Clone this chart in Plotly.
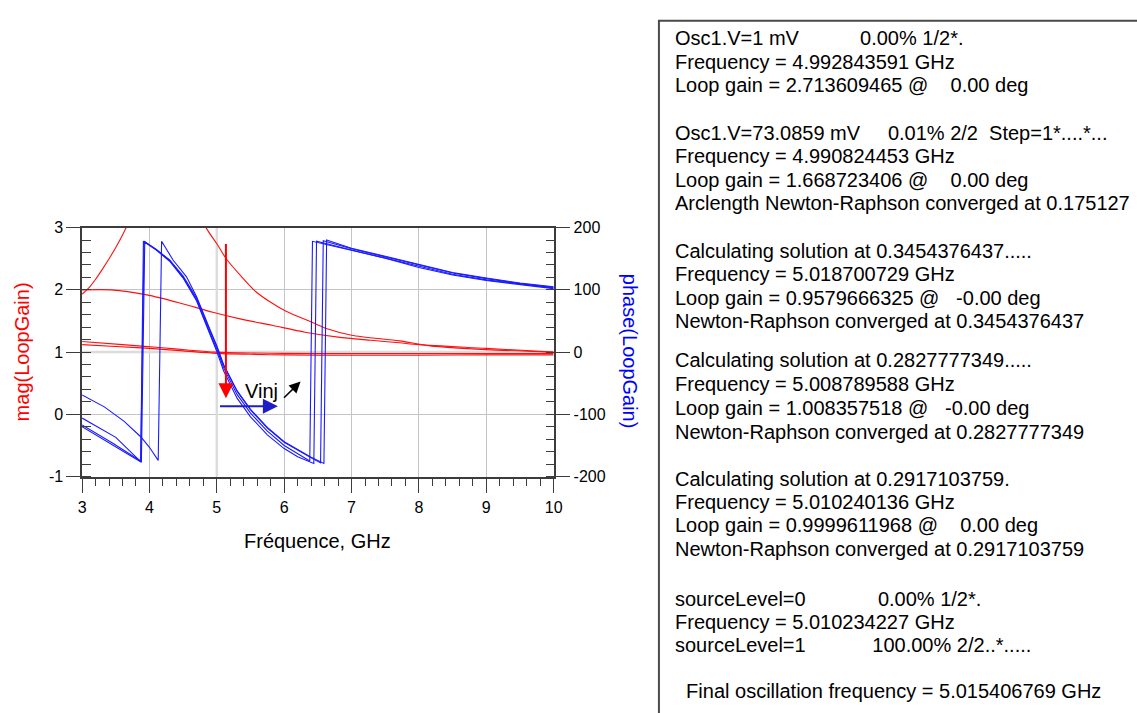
import plotly.graph_objects as go

W, H = 1137, 713
# plot area in pixels
PX0, PX1 = 79, 556
PY0, PY1 = 225, 480

FONT = "Liberation Sans, Arial, sans-serif"

# ---- magnitude of the loop gain (left axis), one curve per iteration ----
mag_f1 = [3.0, 3.1, 3.2, 3.3, 3.4, 3.5, 3.6, 3.7, 4.0, 4.3, 4.6, 4.84, 5.0, 5.14, 5.36,
          5.58, 5.8, 6.02, 6.41, 6.65, 7.0, 7.71, 8.17, 9.0, 10.0]
mag_v1 = [1.93, 2.03, 2.17, 2.33, 2.50, 2.68, 2.88, 3.12, 4.2, 5.0, 3.6, 3.0, 2.74, 2.50, 2.22,
          1.97, 1.80, 1.66, 1.48, 1.37, 1.27, 1.18, 1.10, 1.04, 1.0]

mag_f2 = [3.0, 3.43, 3.96, 4.45, 4.94, 5.36, 5.82, 6.31, 6.8, 7.29, 7.71, 8.0, 9.0, 10.0]
mag_v2 = [2.0, 2.0, 1.92, 1.79, 1.64, 1.53, 1.43, 1.32, 1.24, 1.19, 1.15, 1.12, 1.06, 1.0]

mag_f3 = [3.0, 3.6, 4.19, 4.6, 4.97, 5.5, 6.0, 7.0, 8.0, 9.0, 10.0]
mag_v3 = [1.17, 1.12, 1.07, 1.03, 1.0, 0.985, 0.98, 0.975, 0.975, 0.975, 0.975]

mag_f4 = [3.0, 3.5, 4.0, 4.5, 5.0, 5.5, 6.0, 7.0, 8.0, 9.0, 10.0]
mag_v4 = [1.12, 1.09, 1.06, 1.02, 0.98, 0.965, 0.955, 0.95, 0.95, 0.955, 0.955]

# ---- phase of the loop gain (right axis, degrees) ----
ph_f1 = [3.0, 3.45, 3.87, 3.91, 4.1, 4.3, 4.5, 4.7, 4.9, 5.0, 5.1, 5.3, 5.5, 5.75,
         6.0, 6.2, 6.38, 6.42, 7.0, 7.5, 8.0, 8.5, 9.0, 9.5, 10.0]
ph_p1 = [-117, -146, -175, 178, 165, 147, 120, 84, 30, 5, -25, -68, -98, -127,
         -150, -163, -175, 178, 163, 151, 136, 124, 115, 108, 102]

ph_f2 = [3.0, 3.45, 3.88, 3.93, 4.1, 4.3, 4.5, 4.7, 4.9, 5.0, 5.1, 5.3, 5.5, 5.75,
         6.0, 6.2, 6.44, 6.48, 7.0, 7.5, 8.0, 8.5, 9.0, 9.5, 10.0]
ph_p2 = [-120, -149, -177, 177, 164, 146, 119, 82, 27, 1, -30, -74, -104, -133,
         -155, -168, -179, 178, 164, 151, 137, 125, 116, 109, 103]

ph_f3 = [3.0, 3.5, 3.87, 3.92, 4.1, 4.3, 4.5, 4.7, 4.9, 5.0, 5.1, 5.3, 5.5, 5.75,
         6.0, 6.2, 6.4, 6.54, 6.58, 7.0, 7.5, 8.0, 8.5, 9.0, 9.5, 10.0]
ph_p3 = [-106, -137, -176, 178, 165, 148, 122, 87, 34, 9, -21, -63, -93, -122,
         -145, -158, -170, -178, 179, 166, 153, 139, 127, 118, 110, 104]

ph_f4 = [3.0, 3.33, 3.62, 3.87, 4.0, 4.13, 4.18, 4.35, 4.55, 4.7, 4.9, 5.0, 5.1, 5.3,
         5.5, 5.75, 6.0, 6.2, 6.4, 6.59, 6.63, 7.0, 7.5, 8.0, 8.5, 9.0, 9.5, 10.0]
ph_p4 = [-69, -88, -111, -136, -153, -174, 178, 148, 121, 89, 36, 10, -20, -62,
         -92, -121, -144, -157, -169, -179, 180, 167, 154, 140, 128, 119, 111, 105]

mag_curves = [(mag_f1, mag_v1), (mag_f2, mag_v2), (mag_f3, mag_v3), (mag_f4, mag_v4)]
phase_curves = [(ph_f1, ph_p1), (ph_f2, ph_p2), (ph_f3, ph_p3), (ph_f4, ph_p4)]

# axis tick labels
freq_ticks = [3, 4, 5, 6, 7, 8, 9, 10]
mag_ticks = [-1, 0, 1, 2, 3]
mag_labels = ["-1", "0", "1", "2", "3"]
phase_ticks = [-200, -100, 0, 100, 200]
phase_labels = ["-200", "-100", "0", "100", "200"]

# ---- simulator log shown beside the plot: (text, y centre in px) ----
log_lines = [
    ("Osc1.V=1 mV           0.00% 1/2*.", 31),
    ("Frequency = 4.992843591 GHz", 55),
    ("Loop gain = 2.713609465 @    0.00 deg", 79),
    ("Osc1.V=73.0859 mV     0.01% 2/2  Step=1*....*...", 128),
    ("Frequency = 4.990824453 GHz", 152),
    ("Loop gain = 1.668723406 @    0.00 deg", 176),
    ("Arclength Newton-Raphson converged at 0.175127", 200),
    ("Calculating solution at 0.3454376437.....", 249),
    ("Frequency = 5.018700729 GHz", 273),
    ("Loop gain = 0.9579666325 @   -0.00 deg", 297),
    ("Newton-Raphson converged at 0.3454376437", 321),
    ("Calculating solution at 0.2827777349.....", 361),
    ("Frequency = 5.008789588 GHz", 385),
    ("Loop gain = 1.008357518 @   -0.00 deg", 410),
    ("Newton-Raphson converged at 0.2827777349", 434),
    ("Calculating solution at 0.2917103759.", 482),
    ("Frequency = 5.010240136 GHz", 506),
    ("Loop gain = 0.9999611968 @    0.00 deg", 530),
    ("Newton-Raphson converged at 0.2917103759", 554),
    ("sourceLevel=0             0.00% 1/2*.", 605),
    ("Frequency = 5.010234227 GHz", 629),
    ("sourceLevel=1            100.00% 2/2..*.....", 653),
    ("  Final oscillation frequency = 5.015406769 GHz", 700),
]

fig = go.Figure()

for f, v in mag_curves:
    fig.add_trace(go.Scatter(x=f, y=v, mode="lines", yaxis="y",
                             line=dict(color="#ff1010", width=1.1, shape="spline", smoothing=0.8),
                             showlegend=False, hoverinfo="skip"))
for f, p in phase_curves:
    fig.add_trace(go.Scatter(x=f, y=p, mode="lines", yaxis="y2",
                             line=dict(color="#1a1aff", width=1.1),
                             showlegend=False, hoverinfo="skip"))

AX = "#3c3c3c"
GRID = "#c4c4c4"

fig.update_layout(
    width=W, height=H,
    margin=dict(l=0, r=0, t=0, b=0),
    paper_bgcolor="white", plot_bgcolor="white",
    font=dict(family=FONT, color="black", size=16),
    xaxis=dict(
        domain=[PX0 / W, PX1 / W], range=[3, 10],
        tickmode="array", tickvals=freq_ticks,
        ticks="outside", ticklen=15, tickwidth=1.2, tickcolor=AX,
        showline=True, linecolor=AX, linewidth=1.5, mirror=True,
        showgrid=True, gridcolor=GRID, gridwidth=1, zeroline=False,
        tickfont=dict(size=16),
        minor=dict(tickmode="linear", ticks="outside", ticklen=8, tick0=3, dtick=0.2,
                   tickcolor=AX, tickwidth=1, showgrid=False),
        anchor="y",
    ),
    yaxis=dict(
        domain=[1 - PY1 / H, 1 - PY0 / H], range=[-1, 3],
        tickmode="array", tickvals=mag_ticks, ticktext=mag_labels,
        ticks="outside", ticklen=14, tickwidth=1.2, tickcolor=AX,
        showline=True, linecolor=AX, linewidth=1.5,
        showgrid=True, gridcolor=GRID, gridwidth=1, zeroline=False,
        tickfont=dict(size=16),
        minor=dict(tickmode="linear", ticks="inside", ticklen=9, tick0=-1, dtick=0.2,
                   tickcolor=AX, tickwidth=1, showgrid=False),
        anchor="x",
    ),
    yaxis2=dict(
        overlaying="y", side="right", anchor="x",
        range=[-200, 200],
        tickmode="array", tickvals=phase_ticks, ticktext=phase_labels,
        ticks="outside", ticklen=15, tickwidth=1.2, tickcolor=AX,
        showline=True, linecolor=AX, linewidth=1.5,
        showgrid=False, zeroline=False,
        tickfont=dict(size=16),
        minor=dict(tickmode="linear", ticks="inside", ticklen=8, tick0=-200, dtick=20,
                   tickcolor=AX, tickwidth=1, showgrid=False),
    ),
)

# marker lines at 5 GHz and unity gain
fig.add_shape(type="line", xref="x", yref="y", x0=5, x1=5, y0=-1, y1=3,
              line=dict(color="#dcdcdc", width=2.5), layer="between")
fig.add_shape(type="line", xref="x", yref="y", x0=3, x1=10, y0=1, y1=1,
              line=dict(color="#dcdcdc", width=2.5), layer="between")

# frame of the log panel
fig.add_shape(type="rect", xref="paper", yref="paper",
              x0=662.5 / W, x1=1.05, y0=-0.05, y1=1 - 13 / H,
              line=dict(color="#4a4a4a", width=2), fillcolor="rgba(0,0,0,0)")

# axis titles
fig.add_annotation(text="mag(LoopGain)", xref="paper", yref="paper",
                   x=18 / W, y=1 - 352 / H, xanchor="center", yanchor="middle",
                   showarrow=False, textangle=-90,
                   font=dict(size=20, color="#ff0000", family=FONT))
fig.add_annotation(text="phase(LoopGain)", xref="paper", yref="paper",
                   x=634 / W, y=1 - 352 / H, xanchor="center", yanchor="middle",
                   showarrow=False, textangle=90,
                   font=dict(size=20, color="#0000ff", family=FONT))
fig.add_annotation(text="Fréquence, GHz", xref="paper", yref="paper",
                   x=317 / W, y=1 - 546 / H, xanchor="center", yanchor="middle",
                   showarrow=False,
                   font=dict(size=20, color="black", family=FONT))

# injection arrows
fig.add_annotation(x=5.135, y=0.26, ax=5.135, ay=2.76, xref="x", yref="y",
                   axref="x", ayref="y", text="", showarrow=True,
                   arrowhead=2, arrowsize=1.5, arrowwidth=2, arrowcolor="#ff0000")
fig.add_annotation(x=5.906, y=0.13, ax=5.025, ay=0.13, xref="x", yref="y",
                   axref="x", ayref="y", text="", showarrow=True,
                   arrowhead=2, arrowsize=1.5, arrowwidth=2, arrowcolor="#1e1ec8")
fig.add_annotation(x=6.243, y=0.526, ax=5.975, ay=0.244, xref="x", yref="y",
                   axref="x", ayref="y", text="", showarrow=True,
                   arrowhead=2, arrowsize=1.5, arrowwidth=1.5, arrowcolor="black")
fig.add_annotation(text="Vinj", x=5.656, y=0.38, xref="x", yref="y",
                   xanchor="center", yanchor="middle", showarrow=False,
                   font=dict(size=20, color="black", family=FONT))

# simulator log
for txt, ypx in log_lines:
    fig.add_annotation(text=txt.replace(" ", "\u00a0"), xref="paper", yref="paper",
                       x=677 / W, y=1 - ypx / H, xanchor="left", yanchor="middle",
                       showarrow=False, align="left",
                       font=dict(size=20, color="black", family=FONT))

fig.write_html("out.html")
